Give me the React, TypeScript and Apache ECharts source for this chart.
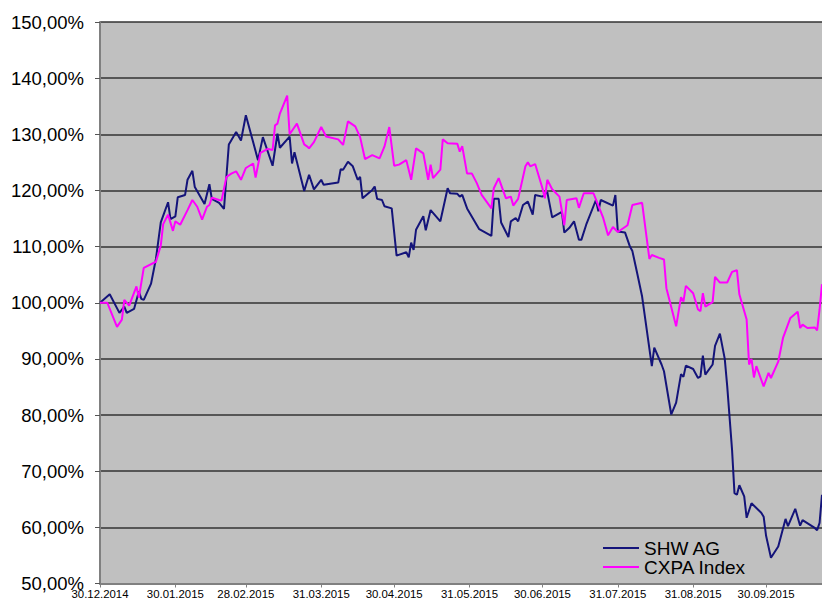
import React, { useEffect, useRef } from "react";
import * as echarts from "echarts";

const xMin = "2014-12-30";
const xMax = "2015-10-23";
const xTickDates = [
  "2014-12-30", "2015-01-30", "2015-02-28", "2015-03-31", "2015-04-30",
  "2015-05-31", "2015-06-30", "2015-07-31", "2015-08-31", "2015-09-30",
];
const yMin = 50;
const yMax = 150;
const yStep = 10;
const seriesNames = ["SHW AG", "CXPA Index"];

const shwAG: [string, number][] = [
  ["2014-12-30", 100], ["2015-01-03", 101.5], ["2015-01-07", 98.2], ["2015-01-09", 99.3],
  ["2015-01-10", 98.2], ["2015-01-13", 98.9], ["2015-01-15", 102], ["2015-01-16", 100.7],
  ["2015-01-17", 100.5], ["2015-01-20", 103.4], ["2015-01-22", 107.8], ["2015-01-24", 114.3],
  ["2015-01-27", 117.9], ["2015-01-28", 114.9], ["2015-01-30", 115.4], ["2015-01-31", 118.8],
  ["2015-02-03", 119.2], ["2015-02-04", 121.9], ["2015-02-06", 123.5], ["2015-02-07", 120.6],
  ["2015-02-11", 117.6], ["2015-02-13", 121.1], ["2015-02-14", 118.5], ["2015-02-17", 117.8],
  ["2015-02-19", 116.7], ["2015-02-21", 128.2], ["2015-02-24", 130.4], ["2015-02-26", 128.9],
  ["2015-02-28", 133.4], ["2015-03-05", 125.4], ["2015-03-07", 129.5], ["2015-03-11", 124.4],
  ["2015-03-13", 130.1], ["2015-03-14", 127.6], ["2015-03-18", 129.6], ["2015-03-19", 124.8],
  ["2015-03-20", 126.8], ["2015-03-24", 119.9], ["2015-03-26", 122.8], ["2015-03-28", 120.2],
  ["2015-03-31", 121.9], ["2015-04-01", 121], ["2015-04-07", 121.4], ["2015-04-08", 123.8],
  ["2015-04-09", 123.7], ["2015-04-11", 125.1], ["2015-04-13", 124.3], ["2015-04-15", 121.9],
  ["2015-04-16", 122.4], ["2015-04-17", 118.6], ["2015-04-21", 120.1], ["2015-04-22", 120.7],
  ["2015-04-23", 118.5], ["2015-04-25", 118.3], ["2015-04-26", 117.2], ["2015-04-29", 116.8],
  ["2015-05-01", 108.4], ["2015-05-05", 109], ["2015-05-06", 108.1], ["2015-05-07", 110.7],
  ["2015-05-08", 109.4], ["2015-05-09", 113], ["2015-05-12", 115.4], ["2015-05-13", 112.9],
  ["2015-05-15", 116.5], ["2015-05-19", 114.5], ["2015-05-22", 120.4], ["2015-05-23", 119.5],
  ["2015-05-26", 119.4], ["2015-05-27", 118.9], ["2015-05-28", 119.2], ["2015-05-30", 116.8],
  ["2015-06-04", 113.1], ["2015-06-09", 111.9], ["2015-06-10", 118.5], ["2015-06-12", 118.5],
  ["2015-06-13", 114.3], ["2015-06-16", 111.7], ["2015-06-17", 114.5], ["2015-06-19", 115.1],
  ["2015-06-20", 114.5], ["2015-06-22", 117.4], ["2015-06-24", 118], ["2015-06-26", 115.7],
  ["2015-06-27", 119.2], ["2015-06-30", 118.9], ["2015-07-02", 119.7], ["2015-07-04", 115.2],
  ["2015-07-06", 115.7], ["2015-07-08", 116.2], ["2015-07-09", 112.5], ["2015-07-11", 113.3],
  ["2015-07-13", 114.5], ["2015-07-15", 111.2], ["2015-07-16", 111.2], ["2015-07-18", 113.9],
  ["2015-07-22", 118.3], ["2015-07-23", 116.3], ["2015-07-24", 118.3], ["2015-07-29", 117.3],
  ["2015-07-30", 119.2], ["2015-07-31", 112.7], ["2015-08-03", 112.5], ["2015-08-05", 110],
  ["2015-08-06", 109.2], ["2015-08-08", 105.2], ["2015-08-10", 101.1], ["2015-08-14", 88.7],
  ["2015-08-15", 92], ["2015-08-18", 89], ["2015-08-19", 87.8], ["2015-08-22", 80.1],
  ["2015-08-24", 82.2], ["2015-08-26", 87.3], ["2015-08-27", 86.8], ["2015-08-28", 88.8],
  ["2015-08-31", 88.2], ["2015-09-02", 86.6], ["2015-09-03", 86.9], ["2015-09-04", 90.6],
  ["2015-09-05", 87.2], ["2015-09-08", 89], ["2015-09-09", 92.3], ["2015-09-11", 94.5],
  ["2015-09-13", 90], ["2015-09-14", 85.2], ["2015-09-16", 73.8], ["2015-09-17", 66.1],
  ["2015-09-18", 65.8], ["2015-09-19", 67.5], ["2015-09-21", 65.5], ["2015-09-22", 61.7],
  ["2015-09-24", 64.3], ["2015-09-28", 62.6], ["2015-09-29", 61.9], ["2015-09-30", 58.5],
  ["2015-10-02", 54.6], ["2015-10-05", 56.6], ["2015-10-08", 61.5], ["2015-10-09", 60.2],
  ["2015-10-12", 63.3], ["2015-10-14", 60.3], ["2015-10-15", 61.3], ["2015-10-20", 59.9],
  ["2015-10-21", 59.5], ["2015-10-22", 60.8], ["2015-10-23", 65.8],
];

const cxpaIndex: [string, number][] = [
  ["2014-12-30", 100], ["2015-01-02", 100], ["2015-01-06", 95.7], ["2015-01-08", 97],
  ["2015-01-09", 100.5], ["2015-01-11", 99.5], ["2015-01-14", 102.9], ["2015-01-15", 100.9],
  ["2015-01-17", 106.2], ["2015-01-22", 107.3], ["2015-01-24", 110.2], ["2015-01-25", 114],
  ["2015-01-27", 115.7], ["2015-01-29", 112.8], ["2015-01-30", 114.5], ["2015-02-01", 113.9],
  ["2015-02-04", 116.5], ["2015-02-06", 118.3], ["2015-02-08", 117.1], ["2015-02-10", 114.8],
  ["2015-02-12", 117.1], ["2015-02-13", 117.4], ["2015-02-14", 118.7], ["2015-02-17", 118.3],
  ["2015-02-18", 118.2], ["2015-02-20", 122.4], ["2015-02-22", 123], ["2015-02-24", 123.4],
  ["2015-02-26", 121.9], ["2015-02-28", 124], ["2015-03-03", 124.8], ["2015-03-04", 122.3],
  ["2015-03-06", 126.7], ["2015-03-09", 127.4], ["2015-03-11", 127.2], ["2015-03-12", 131.6],
  ["2015-03-13", 131.9], ["2015-03-14", 133.7], ["2015-03-17", 136.9], ["2015-03-18", 130],
  ["2015-03-21", 131.9], ["2015-03-24", 128.2], ["2015-03-25", 127.9], ["2015-03-26", 127.5],
  ["2015-03-28", 128.6], ["2015-03-31", 131.3], ["2015-04-02", 129.6], ["2015-04-07", 129.1],
  ["2015-04-09", 128.1], ["2015-04-11", 132.3], ["2015-04-14", 131.4], ["2015-04-16", 129.5],
  ["2015-04-18", 125.6], ["2015-04-21", 126.3], ["2015-04-24", 125.7], ["2015-04-26", 127.8],
  ["2015-04-28", 131.3], ["2015-04-30", 124.4], ["2015-05-02", 124.6], ["2015-05-05", 125.4],
  ["2015-05-07", 121.9], ["2015-05-09", 127.5], ["2015-05-12", 126.6], ["2015-05-14", 121.9],
  ["2015-05-15", 124.6], ["2015-05-16", 122.2], ["2015-05-19", 123.7], ["2015-05-20", 129.1],
  ["2015-05-22", 128.4], ["2015-05-26", 128.3], ["2015-05-27", 126.9], ["2015-05-28", 127.9],
  ["2015-05-30", 123], ["2015-06-01", 123], ["2015-06-03", 121.3], ["2015-06-05", 119.2],
  ["2015-06-09", 116.8], ["2015-06-10", 120.4], ["2015-06-12", 122.2], ["2015-06-15", 118.6],
  ["2015-06-17", 118.9], ["2015-06-18", 117.3], ["2015-06-20", 118.5], ["2015-06-23", 124.3],
  ["2015-06-24", 125], ["2015-06-25", 124.3], ["2015-06-27", 124.7], ["2015-06-30", 120.4],
  ["2015-07-01", 118.6], ["2015-07-02", 121.9], ["2015-07-04", 120.2], ["2015-07-07", 118.9],
  ["2015-07-09", 113.8], ["2015-07-10", 118.3], ["2015-07-14", 118.6], ["2015-07-15", 116.9],
  ["2015-07-17", 119.5], ["2015-07-21", 119.5], ["2015-07-22", 118.4], ["2015-07-25", 115.1],
  ["2015-07-27", 112], ["2015-07-29", 113.5], ["2015-07-31", 112.6], ["2015-08-04", 113.8],
  ["2015-08-06", 117.4], ["2015-08-10", 117.8], ["2015-08-13", 107.8], ["2015-08-14", 108.5],
  ["2015-08-17", 108], ["2015-08-19", 107.7], ["2015-08-20", 102.6], ["2015-08-24", 95.8],
  ["2015-08-26", 101], ["2015-08-27", 100.2], ["2015-08-28", 103], ["2015-08-31", 101.7],
  ["2015-09-02", 98.8], ["2015-09-03", 98.5], ["2015-09-04", 101.7], ["2015-09-05", 99.3],
  ["2015-09-08", 100.1], ["2015-09-09", 104.6], ["2015-09-11", 103.6], ["2015-09-14", 103.6],
  ["2015-09-16", 105.5], ["2015-09-18", 105.8], ["2015-09-19", 101.5], ["2015-09-22", 97],
  ["2015-09-23", 89], ["2015-09-24", 90], ["2015-09-25", 86.7], ["2015-09-26", 88.7],
  ["2015-09-29", 85.1], ["2015-10-01", 87.5], ["2015-10-02", 86.6], ["2015-10-05", 89.5],
  ["2015-10-07", 93.8], ["2015-10-10", 97.3], ["2015-10-13", 98.4], ["2015-10-14", 95.5],
  ["2015-10-15", 96.1], ["2015-10-17", 95.5], ["2015-10-20", 95.6], ["2015-10-21", 95.1],
  ["2015-10-22", 98.8], ["2015-10-23", 103.3],
];

const toTs = (s: string) => {
  const [y, m, d] = s.split("-").map(Number);
  return new Date(y, m - 1, d).getTime();
};
const pad = (n: number) => (n < 10 ? "0" + n : "" + n);
const fmtDate = (v: number) => {
  const d = new Date(v);
  return pad(d.getDate()) + "." + pad(d.getMonth() + 1) + "." + d.getFullYear();
};
const fmtPct = (v: number) => v.toFixed(2).replace(".", ",") + "%";
const toSeries = (arr: [string, number][]) => arr.map(([d, v]) => [toTs(d), v]);

const FONT = 'Arial, "Liberation Sans", sans-serif';
const NAVY = "#14147a";
const MAGENTA = "#ff00ff";

export default function App() {
  const ref = useRef<HTMLDivElement>(null);
  useEffect(() => {
    if (!ref.current) return;
    const chart = echarts.init(ref.current, undefined, { renderer: "svg" });
    const tickTs = xTickDates.map(toTs);
    chart.setOption({
      animation: false,
      backgroundColor: "#ffffff",
      grid: {
        show: true,
        left: 100,
        right: 0,
        top: 22,
        bottom: 17.5,
        backgroundColor: "#c0c0c0",
        borderWidth: 0,
      },
      legend: {
        orient: "vertical",
        left: 603,
        top: 538.5,
        padding: 0,
        itemGap: 0,
        itemWidth: 36,
        itemHeight: 2,
        icon: "rect",
        data: seriesNames,
        textStyle: { fontSize: 19, fontFamily: FONT, color: "#000" },
      },
      xAxis: {
        type: "value",
        min: toTs(xMin),
        max: toTs(xMax),
        axisLine: { show: true, lineStyle: { color: "#808080", width: 2 } },
        axisTick: {
          show: true,
          length: 4,
          customValues: tickTs,
          lineStyle: { color: "#808080", width: 1 },
        },
        axisLabel: {
          customValues: tickTs,
          formatter: (v: number) => fmtDate(v),
          fontSize: 11.4,
          fontFamily: FONT,
          color: "#000",
          margin: 5,
          hideOverlap: false,
        },
        splitLine: { show: false },
      },
      yAxis: {
        type: "value",
        min: yMin,
        max: yMax,
        interval: yStep,
        axisLine: { show: true, lineStyle: { color: "#808080", width: 2 } },
        axisTick: { show: true, length: 5, lineStyle: { color: "#555", width: 1 } },
        axisLabel: {
          formatter: (v: number) => fmtPct(v),
          fontSize: 18.5,
          fontFamily: FONT,
          color: "#000",
          margin: 16,
        },
        splitLine: { show: true, lineStyle: { color: "#333333", width: 1.5 } },
      },
      series: [
        {
          name: seriesNames[0],
          type: "line",
          data: toSeries(shwAG),
          symbol: "none",
          lineStyle: { color: NAVY, width: 2 },
          itemStyle: { color: NAVY },
        },
        {
          name: seriesNames[1],
          type: "line",
          data: toSeries(cxpaIndex),
          symbol: "none",
          lineStyle: { color: MAGENTA, width: 2 },
          itemStyle: { color: MAGENTA },
        },
      ],
    });
    return () => chart.dispose();
  }, []);
  return (
    <div
      ref={ref}
      style={{ position: "fixed", left: 0, top: 0, width: 822, height: 601 }}
    />
  );
}
